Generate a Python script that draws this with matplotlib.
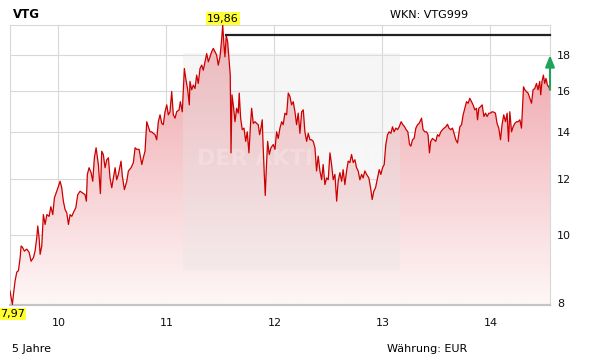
import numpy as np
import matplotlib
matplotlib.use("Agg")
import matplotlib.pyplot as plt
from matplotlib.patches import Rectangle

# Kursverlauf VTG, 5 Jahre (Zeit in Dezimaljahren, 10 = 2010)
datum = [9.552, 9.574, 9.584, 9.599, 9.615, 9.630, 9.646, 9.655, 9.667, 9.685,
         9.708, 9.729, 9.747, 9.769, 9.784, 9.800, 9.809, 9.821, 9.831, 9.846,
         9.861, 9.877, 9.893, 9.914, 9.930, 9.948, 9.963, 9.985, 10.000, 10.016,
         10.031, 10.046, 10.062, 10.078, 10.093, 10.108, 10.124, 10.145, 10.161, 10.179,
         10.201, 10.222, 10.247, 10.259, 10.268, 10.284, 10.303, 10.318, 10.333, 10.349,
         10.370, 10.389, 10.401, 10.416, 10.432, 10.448, 10.463, 10.478, 10.494, 10.509,
         10.525, 10.540, 10.555, 10.580, 10.592, 10.611, 10.633, 10.648, 10.673, 10.694,
         10.710, 10.725, 10.747, 10.772, 10.786, 10.802, 10.818, 10.833, 10.848, 10.864,
         10.879, 10.895, 10.910, 10.925, 10.941, 10.957, 10.971, 10.987, 11.003, 11.018,
         11.033, 11.049, 11.064, 11.080, 11.095, 11.117, 11.129, 11.147, 11.166, 11.179,
         11.197, 11.212, 11.218, 11.234, 11.249, 11.265, 11.280, 11.295, 11.311, 11.327,
         11.341, 11.357, 11.373, 11.388, 11.403, 11.419, 11.434, 11.450, 11.465, 11.480,
         11.496, 11.512, 11.521, 11.533, 11.542, 11.554, 11.567, 11.579, 11.591, 11.598,
         11.607, 11.619, 11.635, 11.650, 11.665, 11.674, 11.687, 11.702, 11.718, 11.734,
         11.748, 11.764, 11.780, 11.789, 11.804, 11.820, 11.835, 11.850, 11.863, 11.875,
         11.887, 11.896, 11.906, 11.915, 11.924, 11.937, 11.952, 11.968, 11.989, 12.005,
         12.020, 12.035, 12.051, 12.067, 12.081, 12.097, 12.113, 12.128, 12.143, 12.159,
         12.174, 12.190, 12.205, 12.220, 12.236, 12.252, 12.267, 12.282, 12.298, 12.313,
         12.329, 12.344, 12.359, 12.375, 12.390, 12.405, 12.421, 12.437, 12.451, 12.467,
         12.483, 12.498, 12.514, 12.529, 12.544, 12.560, 12.576, 12.590, 12.606, 12.622,
         12.636, 12.652, 12.668, 12.683, 12.698, 12.714, 12.729, 12.745, 12.760, 12.775,
         12.791, 12.807, 12.821, 12.837, 12.853, 12.874, 12.890, 12.905, 12.920, 12.936,
         12.955, 12.970, 12.985, 13.001, 13.016, 13.031, 13.047, 13.062, 13.078, 13.093,
         13.108, 13.124, 13.140, 13.155, 13.173, 13.189, 13.205, 13.219, 13.235, 13.251,
         13.263, 13.278, 13.293, 13.309, 13.325, 13.339, 13.362, 13.376, 13.392, 13.408,
         13.422, 13.435, 13.447, 13.463, 13.478, 13.494, 13.509, 13.524, 13.540, 13.556,
         13.571, 13.586, 13.602, 13.616, 13.632, 13.648, 13.663, 13.679, 13.695, 13.716,
         13.732, 13.747, 13.762, 13.778, 13.793, 13.809, 13.824, 13.839, 13.855, 13.871,
         13.880, 13.892, 13.908, 13.923, 13.939, 13.954, 13.969, 13.985, 14.000, 14.015,
         14.031, 14.046, 14.061, 14.077, 14.093, 14.107, 14.123, 14.139, 14.154, 14.167,
         14.179, 14.195, 14.209, 14.225, 14.241, 14.256, 14.272, 14.287, 14.296, 14.306,
         14.318, 14.333, 14.348, 14.364, 14.380, 14.394, 14.410, 14.426, 14.440, 14.456,
         14.465, 14.477, 14.490, 14.502, 14.514, 14.527, 14.539, 14.551]

kurs = [8.33, 7.97, 8.24, 8.61, 8.86, 8.90, 9.29, 9.65, 9.61, 9.49,
        9.55, 9.45, 9.18, 9.29, 9.49, 9.92, 10.30, 9.92, 9.39, 9.65,
        10.69, 10.35, 10.69, 10.63, 10.97, 10.69, 11.29, 11.54, 11.72, 11.92,
        11.67, 11.17, 10.87, 10.75, 10.35, 10.69, 10.63, 10.81, 10.93, 11.41,
        11.54, 11.48, 11.41, 11.17, 12.19, 12.46, 12.26, 11.92, 12.87, 13.30,
        12.59, 11.45, 13.15, 13.01, 12.46, 12.79, 12.87, 12.05, 11.67, 12.05,
        12.46, 11.98, 12.19, 12.73, 12.12, 11.60, 11.92, 12.33, 12.46, 12.67,
        13.30, 13.23, 13.23, 12.59, 12.87, 13.15, 14.48, 14.24, 14.01, 14.01,
        13.94, 13.88, 13.65, 14.48, 14.81, 14.40, 14.34, 14.96, 15.30, 14.81,
        14.96, 15.98, 14.81, 14.65, 14.96, 15.05, 15.46, 14.96, 17.23, 16.68,
        16.07, 15.30, 16.52, 16.07, 16.32, 16.14, 16.86, 16.41, 17.23, 17.42,
        17.13, 17.61, 18.09, 17.61, 17.90, 18.20, 18.40, 18.20, 18.00, 17.42,
        17.90, 19.00, 19.86, 18.60, 17.90, 19.21, 18.80, 17.81, 16.86, 13.08,
        15.81, 15.30, 14.48, 15.13, 14.89, 15.90, 14.65, 14.11, 14.18, 13.58,
        14.01, 13.08, 14.48, 15.13, 14.40, 14.48, 14.40, 14.34, 13.88, 14.18,
        14.57, 13.30, 12.19, 11.38, 12.33, 13.58, 13.01, 13.30, 13.44, 13.23,
        14.01, 13.71, 14.18, 14.48, 14.34, 14.89, 14.81, 15.90, 15.73, 15.30,
        15.46, 14.96, 14.34, 14.89, 13.94, 14.96, 15.05, 14.01, 13.58, 13.94,
        13.65, 13.65, 13.58, 13.30, 12.33, 12.94, 12.33, 11.98, 12.59, 11.79,
        12.05, 11.98, 13.08, 12.59, 11.98, 12.19, 11.17, 11.92, 12.26, 11.92,
        12.38, 11.79, 12.33, 12.73, 12.67, 13.01, 12.67, 12.79, 12.46, 12.33,
        11.98, 12.19, 12.05, 12.33, 12.19, 12.05, 11.67, 11.23, 11.54, 11.67,
        12.05, 12.38, 12.19, 12.46, 12.59, 13.44, 13.88, 14.01, 13.94, 14.24,
        14.01, 14.18, 14.11, 14.24, 14.48, 14.34, 14.24, 14.11, 14.01, 13.44,
        13.37, 13.65, 13.71, 14.18, 14.34, 14.40, 14.65, 14.11, 14.01, 14.01,
        13.88, 13.08, 13.58, 13.71, 13.65, 13.58, 13.88, 13.81, 14.01, 14.11,
        14.18, 14.24, 14.36, 14.18, 14.11, 14.18, 13.94, 13.65, 13.51, 14.24,
        14.34, 14.81, 15.13, 15.46, 15.38, 15.63, 15.46, 15.30, 15.05, 15.13,
        14.57, 15.13, 15.21, 15.30, 14.73, 14.89, 14.73, 14.89, 14.89, 14.96,
        14.94, 14.89, 14.40, 14.18, 13.65, 14.34, 14.81, 14.48, 14.89, 13.58,
        14.96, 14.01, 14.24, 14.40, 14.48, 14.48, 14.57, 14.18, 15.13, 16.23,
        16.07, 15.98, 15.90, 15.63, 15.38, 16.07, 16.14, 16.41, 16.07, 16.52,
        15.81, 16.52, 16.86, 16.41, 16.68, 16.32, 16.23, 16.07]

x_ticks = [10, 11, 12, 13, 14]
x_labels = ["10", "11", "12", "13", "14"]
y_ticks = [8, 10, 12, 14, 16, 18]
y_labels = ["8", "10", "12", "14", "16", "18"]

widerstand = 19.21      # schwarze Linie
widerstand_ab = 11.554  # ab diesem Zeitpunkt
pfeil_ziel = 18.0       # gruener Pfeil

datum = np.array(datum)
kurs = np.array(kurs)

fig = plt.figure(figsize=(6.11, 3.64), dpi=100)
ax = fig.add_axes([10 / 611, (364 - 304.5) / 364, 540 / 611, 279.5 / 364])

ax.set_yscale("log")
ymin, ymax = kurs.min(), kurs.max()
ax.set_xlim(datum[0], datum[-1])
ax.set_ylim(ymin, ymax)

# Verlaufsfuellung unter der Kurve
verlauf = np.linspace(0, 1, 256).reshape(-1, 1)
oben = np.array([238, 158, 165]) / 255
unten = np.array([254, 247, 247]) / 255
farben = oben * (1 - verlauf[..., None]) + unten * verlauf[..., None]
farben = farben.reshape(256, 1, 3)
im = ax.imshow(farben, extent=[0, 1, 0, 1], transform=ax.transAxes,
               aspect="auto", zorder=1, interpolation="bilinear")
poly = ax.fill_between(datum, kurs, ymin, facecolor="none", edgecolor="none")
im.set_clip_path(poly.get_paths()[0], transform=ax.transData)

# Wasserzeichen
ax.add_patch(Rectangle((0.320, 0.123), 0.402, 0.777, transform=ax.transAxes,
                       facecolor="#e6e6e6", alpha=0.35, edgecolor="none", zorder=2))
ax.text(0.52, 0.52, "DER AKTIONÄR", transform=ax.transAxes, ha="center", va="center",
        fontsize=16, fontweight="bold", color="white", alpha=0.22, zorder=2)

# Kurslinie
ax.plot(datum, kurs, color="#cc0000", lw=0.9, zorder=3)

# Widerstandslinie und Pfeil
ax.plot([widerstand_ab, datum[-1]], [widerstand, widerstand], color="#222222", lw=1.6,
        zorder=4, clip_on=False)
ax.annotate("", xy=(datum[-1], pfeil_ziel), xytext=(datum[-1], kurs[-1]),
            arrowprops=dict(arrowstyle="-|>,head_length=0.7,head_width=0.28",
                            color="#1fa55a", lw=1.5, shrinkA=0, shrinkB=0),
            zorder=5, annotation_clip=False)

# Hoch / Tief Markierungen
i_max = kurs.argmax()
i_min = kurs.argmin()
ax.annotate("19,86", xy=(datum[i_max], kurs[i_max]), xytext=(0, 1), textcoords="offset points",
            ha="center", va="bottom", fontsize=8,
            bbox=dict(boxstyle="square,pad=0.1", facecolor="#ffff33", edgecolor="none"),
            zorder=6, annotation_clip=False)
ax.annotate("7,97", xy=(datum[i_min], kurs[i_min]), xytext=(0, -3), textcoords="offset points",
            ha="center", va="top", fontsize=8,
            bbox=dict(boxstyle="square,pad=0.1", facecolor="#ffff33", edgecolor="none"),
            zorder=6, annotation_clip=False)

# Achsen
ax.set_xticks(x_ticks, labels=x_labels)
ax.set_yticks(y_ticks, labels=y_labels)
ax.minorticks_off()
ax.yaxis.tick_right()
ax.tick_params(axis="both", length=0, labelsize=8, colors="#111111")
ax.tick_params(axis="x", pad=9.5)
ax.tick_params(axis="y", pad=5)
ax.grid(True, color="#d8d8d8", lw=0.8)
ax.set_axisbelow(True)
for s in ["left", "top", "right"]:
    ax.spines[s].set_color("#d8d8d8")
    ax.spines[s].set_linewidth(0.8)
ax.spines["bottom"].set_color("#c4c4c4")
ax.spines["bottom"].set_linewidth(1.6)

# Texte
fig.text(13 / 611, (364 - 17.5) / 364, "VTG", fontsize=8.5, fontweight="bold", va="baseline")
fig.text(390 / 611, (364 - 18.3) / 364, "WKN: VTG999", fontsize=8, va="baseline")
fig.text(12 / 611, (364 - 351.5) / 364, "5 Jahre", fontsize=8, va="baseline")
fig.text(387 / 611, (364 - 351.5) / 364, "Währung: EUR", fontsize=8, va="baseline")

fig.savefig("out.png", dpi=100)
